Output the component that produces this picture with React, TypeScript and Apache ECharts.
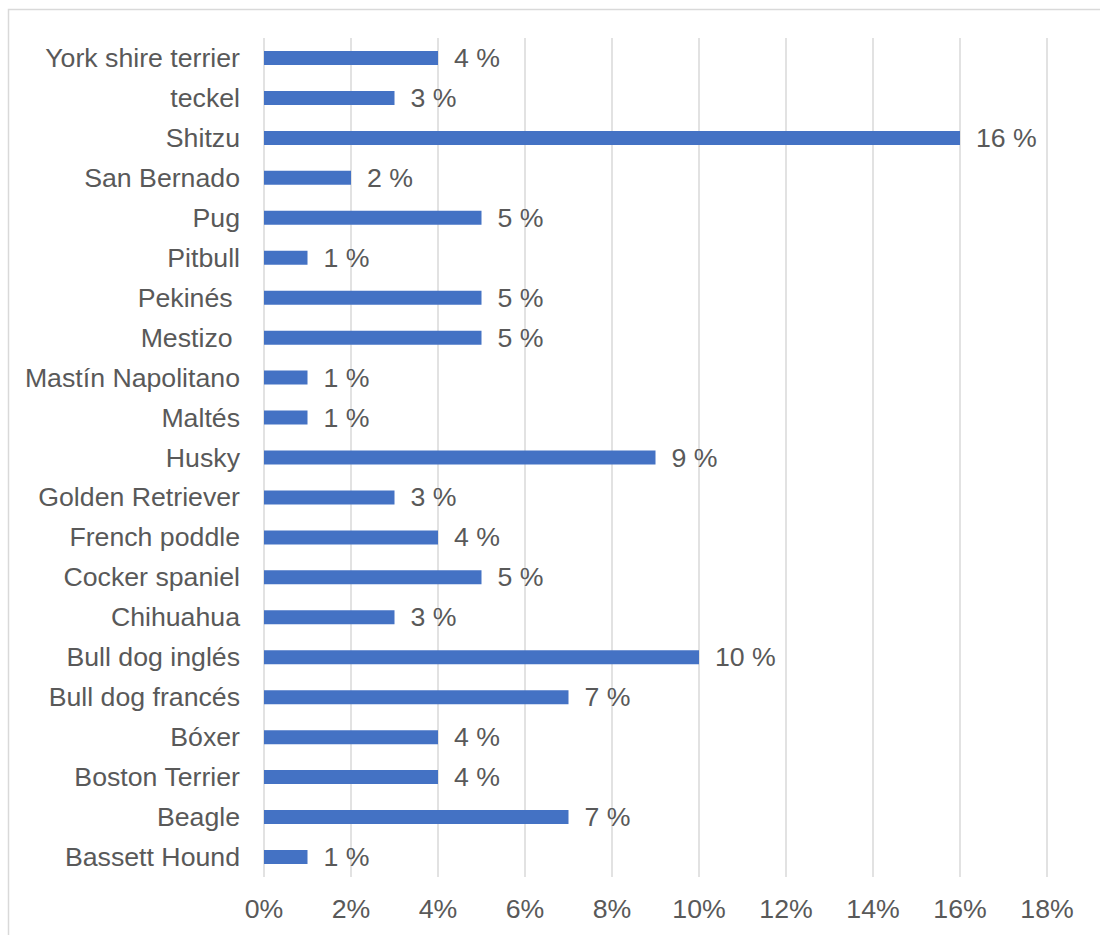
import React, { useEffect, useRef } from "react";
import * as echarts from "echarts";

// bottom-to-top order
const breeds = [
  "Bassett Hound",
  "Beagle",
  "Boston Terrier",
  "Bóxer",
  "Bull dog francés",
  "Bull dog inglés",
  "Chihuahua",
  "Cocker spaniel",
  "French poddle",
  "Golden Retriever",
  "Husky",
  "Maltés",
  "Mastín Napolitano",
  "Mestizo ",
  "Pekinés ",
  "Pitbull",
  "Pug",
  "San Bernado",
  "Shitzu",
  "teckel",
  "York shire terrier",
];
const percentages = [1, 7, 4, 4, 7, 10, 3, 5, 4, 3, 9, 1, 1, 5, 5, 1, 5, 2, 16, 3, 4];
const xMin = 0;
const xMax = 18;
const xStep = 2;

const FONT = "'Liberation Sans', Arial, sans-serif";
const TEXT = "#595959";
const FS = 26.7;

export default function App() {
  const ref = useRef<HTMLDivElement>(null);
  useEffect(() => {
    if (!ref.current) return;
    const chart = echarts.init(ref.current, undefined, { renderer: "svg" });
    chart.setOption({
      animation: false,
      backgroundColor: "#ffffff",
      textStyle: { fontFamily: FONT },
      graphic: [
        {
          type: "rect",
          shape: { x: 8.5, y: 9.5, width: 1200, height: 1000 },
          style: { fill: "none", stroke: "#d9d9d9", lineWidth: 1.5 },
          silent: true,
        },
      ],
      grid: { left: 264, right: 53, top: 38, bottom: 58, containLabel: false },
      xAxis: {
        type: "value",
        min: xMin,
        max: xMax,
        interval: xStep,
        axisLine: { show: false },
        axisTick: { show: false },
        splitLine: { show: true, lineStyle: { color: "#d9d9d9", width: 1.5 } },
        axisLabel: {
          color: TEXT,
          fontSize: FS,
          fontFamily: FONT,
          margin: 18,
          formatter: (v: number) => `${v}%`,
        },
      },
      yAxis: {
        type: "category",
        data: breeds,
        axisLine: { show: false },
        axisTick: { show: false },
        axisLabel: { color: TEXT, fontSize: FS, fontFamily: FONT, margin: 24 },
      },
      series: [
        {
          type: "bar",
          data: percentages,
          barWidth: 14,
          itemStyle: { color: "#4472C4" },
          label: {
            show: true,
            position: "right",
            distance: 16,
            color: TEXT,
            fontSize: FS,
            fontFamily: FONT,
            formatter: (p: any) => `${p.value} %`,
          },
        },
      ],
    });
    return () => chart.dispose();
  }, []);
  return (
    <div
      ref={ref}
      style={{ position: "absolute", left: 0, top: 0, width: 1100, height: 935 }}
    />
  );
}
